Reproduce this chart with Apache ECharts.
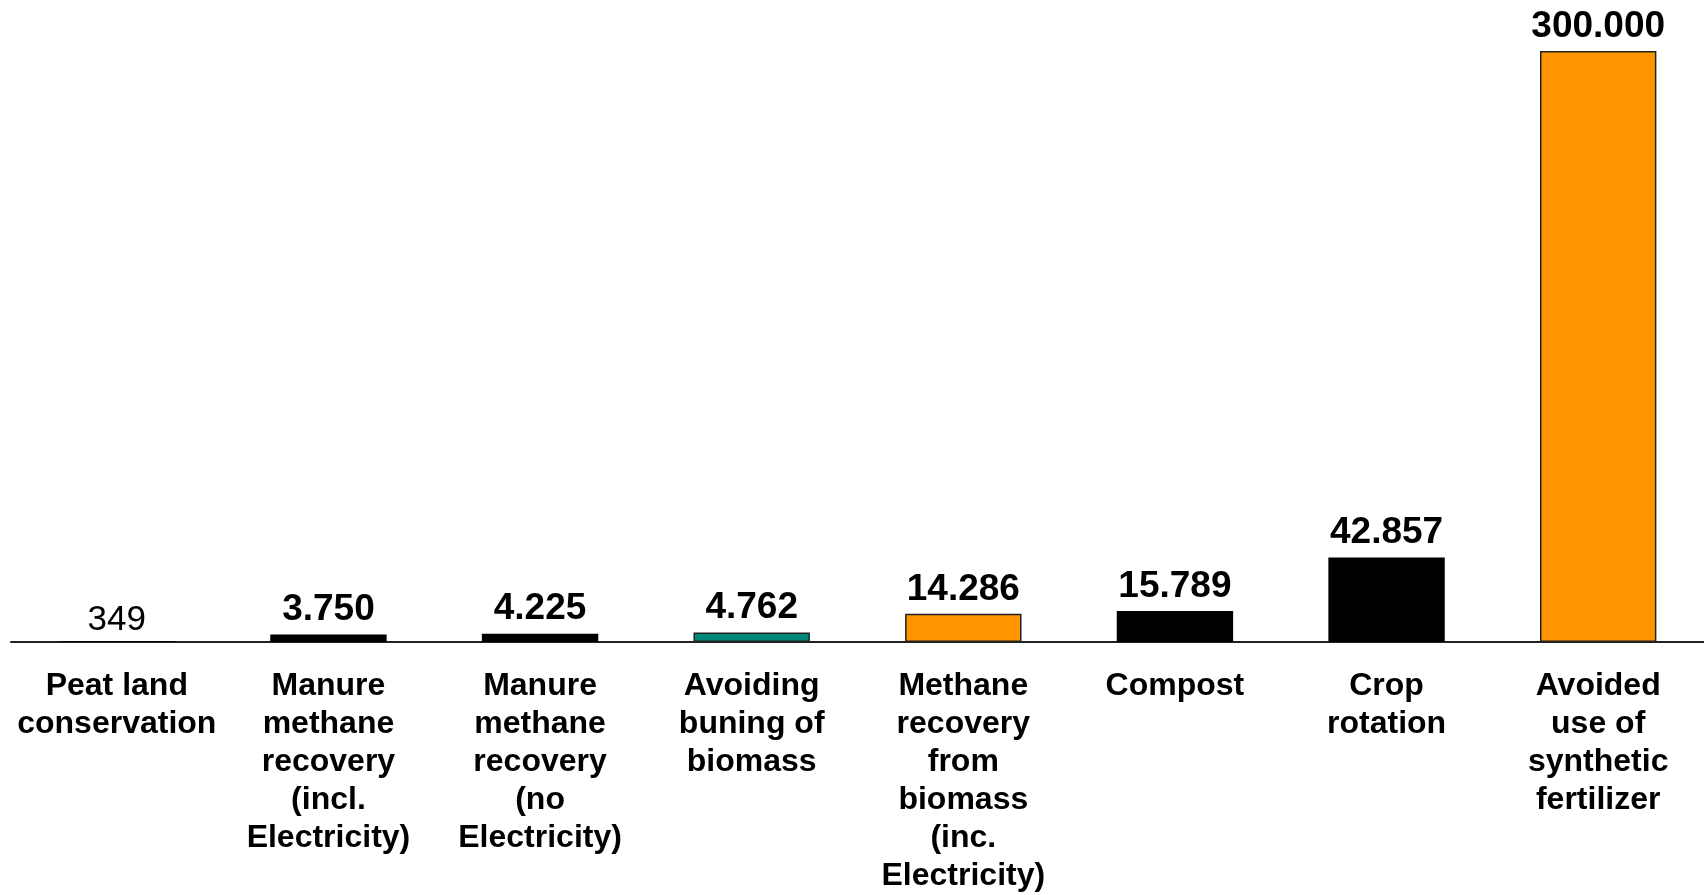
<!DOCTYPE html>
<html>
<head>
<meta charset="utf-8">
<title>Emission reductions by measure</title>
<script src="https://cdn.jsdelivr.net/npm/echarts@6/dist/echarts.min.js"></script>
<style>
  html, body { margin: 0; padding: 0; background: #ffffff; }
  #chart { width: 1704px; height: 895px; }
</style>
</head>
<body>
<div id="chart"></div>
<script>
// Measures, left to right
const categories = [
  'Peat land\nconservation',
  'Manure\nmethane\nrecovery\n(incl.\nElectricity)',
  'Manure\nmethane\nrecovery\n(no\nElectricity)',
  'Avoiding\nbuning of\nbiomass',
  'Methane\nrecovery\nfrom\nbiomass\n(inc.\nElectricity)',
  'Compost',
  'Crop\nrotation',
  'Avoided\nuse of\nsynthetic\nfertilizer'
];

// Value of each measure
const values = [349, 3750, 4225, 4762, 14286, 15789, 42857, 300000];

// Fill colour of each bar
const barColors = ['#000000', '#000000', '#000000', '#00897B', '#FF9600', '#000000', '#000000', '#FF9600'];

const FONT = '"Liberation Sans", Arial, Helvetica, sans-serif';

// Thousands separated with a dot, e.g. 300.000
function fmt(v) {
  return String(v).replace(/\B(?=(\d{3})+(?!\d))/g, '.');
}

const data = values.map((v, i) => ({
  value: v,
  itemStyle: {
    color: barColors[i],
    borderColor: barColors[i] === '#000000' ? '#000000' : '#222222',
    borderWidth: barColors[i] === '#000000' ? 0 : 1.5
  },
  label: i === 0 ? { fontWeight: 'normal', fontSize: 35, distance: 3 } : {}
}));

const chart = echarts.init(document.getElementById('chart'), null, { renderer: 'canvas' });
chart.setOption({
  animation: false,
  backgroundColor: '#ffffff',
  grid: { left: 11, right: 0, top: 51, bottom: 245, containLabel: false },
  xAxis: {
    type: 'category',
    data: categories,
    axisLine: { show: true, lineStyle: { color: '#222222', width: 2 } },
    axisTick: { show: false },
    axisLabel: {
      interval: 0,
      margin: 25,
      color: '#000000',
      fontFamily: FONT,
      fontWeight: 'bold',
      fontSize: 32,
      lineHeight: 38,
      align: 'center'
    }
  },
  yAxis: {
    type: 'value',
    min: 0,
    max: 300000,
    show: false,
    splitLine: { show: false }
  },
  series: [{
    type: 'bar',
    data: data,
    barWidth: '55%',
    label: {
      show: true,
      position: 'top',
      distance: 6,
      color: '#000000',
      fontFamily: FONT,
      fontWeight: 'bold',
      fontSize: 37,
      formatter: p => fmt(p.value)
    }
  }]
});
</script>
</body>
</html>
